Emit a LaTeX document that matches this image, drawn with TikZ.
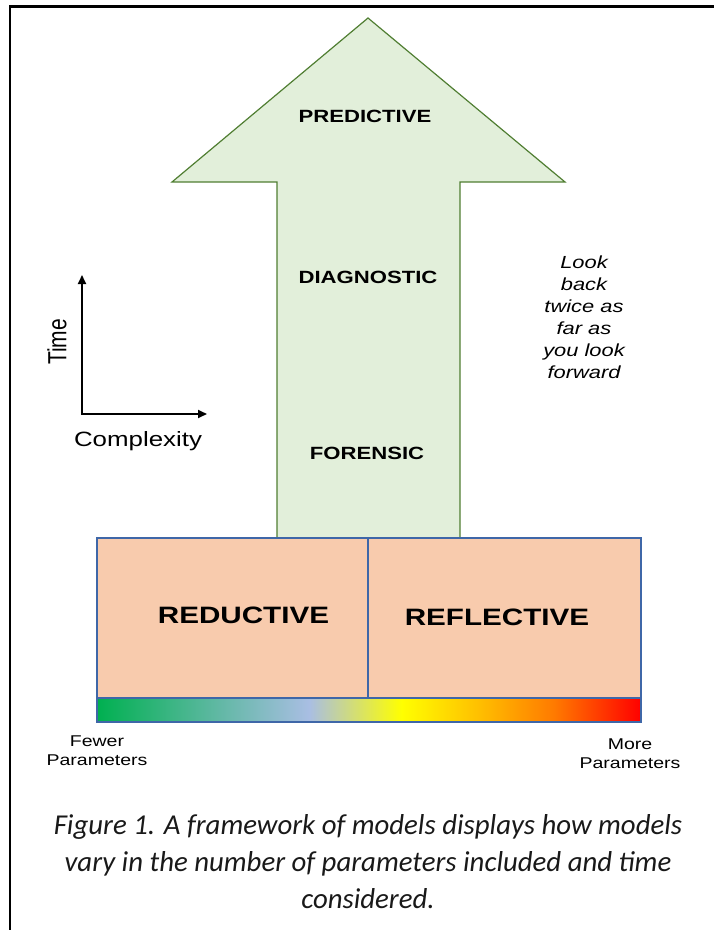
\documentclass[tikz,border=0pt]{standalone}
\usepackage{fontspec}
\newfontfamily\arialS[FakeStretch=1.25]{Liberation Sans}
\newfontfamily\arialN{Liberation Sans}
\newfontfamily\capfont{Carlito}
\usetikzlibrary{arrows.meta}
\definecolor{arrowfill}{HTML}{E2EFDA}
\definecolor{arrowline}{HTML}{507E32}
\definecolor{boxfill}{HTML}{F8CBAD}
\definecolor{boxline}{HTML}{3F67A8}
\definecolor{gA}{HTML}{00B050}
\definecolor{gB}{HTML}{A9BEE3}
\definecolor{gC}{HTML}{FFFF00}
\definecolor{gD}{HTML}{FFC000}
\definecolor{gE}{HTML}{FF7A00}
\definecolor{gF}{HTML}{FF0000}
\pgfdeclarehorizontalshading{paramshade}{100bp}{color(0bp)=(gA); color(25bp)=(gA); color(44.5bp)=(gB); color(53bp)=(gC); color(60bp)=(gD); color(67bp)=(gE); color(75bp)=(gF); color(100bp)=(gF)}
\tikzset{
  arrowlabel/.style={inner sep=0, anchor=base, font=\arialS\bfseries\fontsize{17.7}{21}\selectfont},
  boxlabel/.style={inner sep=0, anchor=base, font=\arialS\bfseries\fontsize{23.7}{28}\selectfont},
  plainlabel/.style={inner sep=0, anchor=base, align=center},
  boxframe/.style={draw=boxline, line width=1.5, fill=boxfill},
  axisline/.style={line width=1.8, {Triangle[length=9pt,width=8pt]}-{Triangle[length=9pt,width=8pt]}},
}
\begin{document}
\begin{tikzpicture}[x=1pt,y=-1pt]
\useasboundingbox (0,0) rectangle (714,930);
% frame
\draw[line width=2.2] (10,930) -- (10,6.5) -- (714,6.5);
% big arrow
\draw[fill=arrowfill, draw=arrowline, line width=1.2, line join=miter]
  (368,18) -- (565,182) -- (460,182) -- (460,538) -- (277,538) -- (277,182) -- (172,182) -- cycle;
\node[arrowlabel] (pred) at (365,122.7) {PREDICTIVE};
\node[arrowlabel] (diag) at (368,283.4) {DIAGNOSTIC};
\node[arrowlabel] (fore) at (367,459.3) {FORENSIC};
% boxes
\draw[boxframe] (97,538) rectangle (368,698);
\draw[boxframe] (368,538) rectangle (641,698);
\node[boxlabel] (redu) at (243.5,623.5) {REDUCTIVE};
\node[boxlabel] (refl) at (497,625) {REFLECTIVE};
% gradient bar
\shade[shading=paramshade] (97,698) rectangle (641,722);
\draw[draw=boxline, line width=1.5] (97,698) rectangle (641,722);
\node[plainlabel, font=\arialS\fontsize{15.6}{19}\selectfont] (fewer) at (97,765) {Fewer\\Parameters};
\node[plainlabel, font=\arialS\fontsize{15.6}{19}\selectfont] (more) at (630,768) {More\\Parameters};
% axes
\coordinate (o) at (82,414);
\coordinate (ty) at (82,275);
\coordinate (cx) at (207,414);
\draw[axisline] (ty) -- (o) -- (cx);
\node[inner sep=0, rotate=90, font=\arialN\fontsize{21}{24}\selectfont] (time) at (57,342) {\scalebox{1}[1.25]{Time}};
\node[plainlabel, font=\arialS\fontsize{20.7}{24}\selectfont] (cplx) at (138,446) {Complexity};
% note
\node[plainlabel, font=\arialS\itshape\fontsize{17.5}{22}\selectfont] (note) at (584,378) {Look\\back\\twice as\\far as\\you look\\forward};
% caption
\node[plainlabel, font=\capfont\itshape\fontsize{28.8}{37}\selectfont, text=black!90] (cap) at (368,908) {Figure 1. A framework of models displays how models\\vary in the number of parameters included and time\\considered.};
\end{tikzpicture}
\end{document}
